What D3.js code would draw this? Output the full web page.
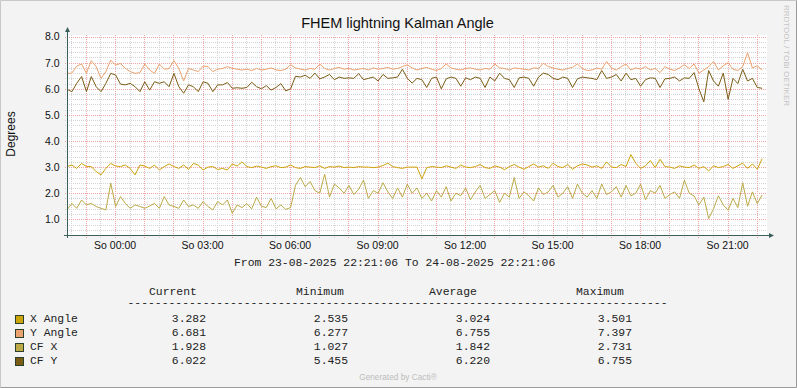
<!DOCTYPE html>
<html lang="en">
<head>
<meta charset="UTF-8">
<title>FHEM lightning Kalman Angle</title>
<script src="https://cdnjs.cloudflare.com/ajax/libs/d3/7.8.5/d3.min.js"></script>
<style>
    body { margin: 0; background: #f3f3f3; }
    svg { display: block; }
    .mono { font-family: "Liberation Mono", "DejaVu Sans Mono", monospace; font-size: 11.4px; fill: #222; }
    .sans { font-family: "Liberation Sans", Arial, sans-serif; }
</style>
</head>
<body>
<svg id="chart" width="797" height="388"></svg>
<script>
    // values every 10 minutes from 23-08-2025 22:21:06
    const startTime = new Date(Date.UTC(2025, 7, 23, 22, 21, 6))
    const endTime = new Date(Date.UTC(2025, 7, 24, 22, 21, 6))
    const stepMinutes = 10

    const seriesNames = ['X Angle', 'Y Angle', 'CF X', 'CF Y']

    const xAngle = [
        3.02,3.08,2.95,3.14,3.02,3.02,2.83,2.70,2.95,3.14,3.04,3.02,3.08,2.95,2.70,3.08,3.04,2.95,3.08,2.89,3.02,3.12,3.02,2.95,3.08,2.91,3.14,3.08,2.89,3.00,3.02,2.91,2.95,2.89,3.12,3.04,
        3.20,3.02,2.98,3.04,3.00,2.95,3.02,3.05,2.98,3.00,3.08,2.98,2.95,3.02,3.00,2.98,3.05,2.95,3.02,3.00,3.04,2.98,3.00,2.98,3.02,3.00,3.00,2.98,3.00,3.06,3.15,3.02,2.98,2.95,3.00,3.00,
        3.00,2.55,2.98,3.02,3.00,2.98,3.05,3.00,2.95,3.08,3.00,2.98,3.02,3.10,2.98,2.95,3.05,3.00,2.90,3.02,3.10,3.00,2.92,3.02,3.12,3.00,3.05,2.95,3.15,3.02,2.98,3.10,2.92,3.05,3.12,3.08,
        3.00,3.05,2.95,3.20,3.00,2.98,3.10,3.02,3.48,3.15,2.95,3.05,3.25,2.98,3.30,3.02,3.00,2.95,3.05,3.00,2.98,3.08,2.95,3.02,2.85,3.05,2.98,3.02,3.10,2.95,3.05,3.15,2.95,3.12,2.92,3.32
    ]
    const yAngle = [
        6.59,6.60,6.87,6.95,6.60,7.08,6.85,6.40,6.66,7.10,6.91,6.97,6.78,6.66,6.59,6.62,6.95,6.72,6.59,6.95,6.75,6.78,7.08,6.78,6.30,6.78,6.72,6.66,6.87,6.85,6.66,6.75,6.78,6.85,6.78,6.75,
        6.72,6.75,6.70,6.78,6.72,6.75,6.80,6.72,6.70,6.75,6.92,6.80,6.75,6.72,6.78,6.75,6.95,6.78,6.72,6.78,6.82,6.75,6.78,6.72,6.75,6.78,6.72,6.80,6.75,6.78,6.82,6.75,6.78,6.85,6.92,6.80,
        6.72,6.78,6.82,6.75,6.70,6.78,6.95,6.80,6.75,6.72,6.78,6.80,6.75,6.72,6.78,6.75,6.95,6.80,6.78,6.72,6.80,6.78,6.75,6.72,6.80,6.78,6.98,6.85,6.80,6.75,6.72,6.78,6.82,6.95,6.78,6.70,
        6.72,6.80,6.75,7.05,6.80,6.72,6.85,6.95,6.72,6.80,6.75,6.85,6.72,6.78,6.62,6.85,6.75,6.70,6.80,6.92,6.78,6.95,6.60,6.72,6.85,7.05,6.72,6.88,7.00,6.75,6.70,6.85,7.38,6.80,6.88,6.72
    ]
    const cfX = [
        1.36,1.61,1.42,1.74,1.55,1.61,1.49,1.42,1.36,2.38,1.49,1.87,1.61,1.42,1.55,1.49,1.42,1.51,1.61,1.42,1.87,1.55,1.49,1.42,1.74,1.49,1.55,1.42,1.68,1.49,1.36,1.68,1.55,1.74,1.23,1.55,
        1.45,1.60,1.40,1.85,1.50,1.45,1.80,1.40,1.55,1.38,1.45,2.30,2.60,2.25,2.45,2.10,2.00,2.73,1.85,2.35,2.20,2.00,2.30,1.95,2.15,2.50,1.80,2.10,2.00,2.40,2.05,1.80,2.20,1.85,2.35,2.00,
        2.20,1.80,2.00,1.70,2.10,1.85,2.25,1.70,2.00,1.90,2.20,1.75,2.05,2.30,1.80,1.95,2.10,1.65,2.00,1.85,2.60,1.80,2.05,1.90,1.70,2.20,1.95,2.05,2.30,1.85,2.00,2.25,1.80,2.35,2.00,1.85,
        2.10,1.80,2.35,1.95,2.05,2.25,1.85,2.30,1.90,2.00,2.35,1.75,2.10,2.00,2.30,1.80,1.95,2.05,1.80,2.50,2.00,1.90,1.55,1.85,1.03,1.40,1.90,1.55,1.35,1.80,1.45,2.40,1.50,2.05,1.60,1.93
    ]
    const cfY = [
        5.98,5.89,6.21,6.47,5.89,6.47,6.08,5.89,6.21,6.59,6.53,6.18,6.15,6.21,6.08,5.89,6.27,5.95,6.27,6.21,6.27,6.08,6.59,6.08,5.83,6.15,6.08,5.89,6.27,6.21,5.89,6.15,6.15,6.24,6.02,6.04,
        6.02,6.05,6.25,6.08,6.00,6.12,5.95,6.05,6.20,5.92,6.00,6.48,6.45,6.52,6.40,6.60,6.38,6.45,6.55,6.35,6.45,6.40,6.42,6.40,6.58,6.35,6.40,6.45,6.30,6.55,6.40,6.42,6.45,6.75,6.40,6.22,
        6.40,6.35,6.05,6.40,6.45,6.00,6.38,6.45,6.40,6.10,6.42,6.35,6.45,6.40,6.05,6.45,6.30,6.60,6.40,6.35,6.05,6.42,6.45,6.40,6.10,6.45,6.60,6.55,6.40,6.35,6.45,6.40,6.05,6.38,6.45,6.42,
        6.40,6.35,6.70,6.40,6.45,6.55,6.30,6.60,6.35,6.40,6.10,6.35,6.42,6.40,6.05,6.38,6.40,6.45,6.30,6.42,6.40,6.62,6.00,5.50,6.70,6.30,6.10,6.60,5.60,6.40,6.20,6.75,6.30,6.40,6.05,6.02
    ]

    const statHeads = ['Current', 'Minimum', 'Average', 'Maximum']
    const current = [3.282, 6.681, 1.928, 6.022]
    const minimum = [2.535, 6.277, 1.027, 5.455]
    const average = [3.024, 6.755, 1.842, 6.220]
    const maximum = [3.501, 7.397, 2.731, 6.755]
    const yTicks = [1, 2, 3, 4, 5, 6, 7, 8]

    const colors = ['#CCA40C', '#EAA26E', '#BBAA46', '#7A5C14']
    const dayNames = ['So', 'Mo', 'Di', 'Mi', 'Do', 'Fr', 'Sa']

    const svg = d3.select('#chart')
    const plotLeft = 67, plotRight = 767, plotTop = 35, plotBottom = 235

    const xScale = d3.scaleUtc().domain([startTime, endTime]).range([plotLeft, plotRight])
    const yScale = d3.scaleLinear().domain([1, 8]).range([219.3, 36.6])

    // frame
    svg.append('rect').attr('width', 797).attr('height', 388).attr('fill', '#f3f3f3')
    svg.append('path').attr('d', 'M0.5,387.5V0.5H796.5').attr('fill', 'none').attr('stroke', '#c8c8c8')
    svg.append('path').attr('d', 'M0.5,387.5H796.5V0.5').attr('fill', 'none').attr('stroke', '#9a9a9a')

    svg.append('rect').attr('x', plotLeft).attr('y', plotTop).attr('width', plotRight - plotLeft).attr('height', plotBottom - plotTop).attr('fill', '#fff')

    const grid = svg.append('g')
    const halfHours = d3.utcMinute.every(30).range(startTime, endTime).filter(d => d.getUTCMinutes() === 30)
    const hours = d3.utcHour.range(startTime, endTime)
    const minorY = d3.range(4, 81, 2).map(d => d / 10).filter(d => d % 1 !== 0 && yScale(d) > plotTop)

    grid.selectAll('.vmin').data(halfHours).enter().append('line')
        .attr('x1', d => Math.round(xScale(d)) + 0.5).attr('x2', d => Math.round(xScale(d)) + 0.5)
        .attr('y1', plotTop).attr('y2', plotBottom + 3)
        .attr('stroke', '#d4d4d4').attr('stroke-dasharray', '1,1')
    grid.selectAll('.hmin').data(minorY).enter().append('line')
        .attr('x1', plotLeft - 2).attr('x2', plotRight)
        .attr('y1', d => Math.round(yScale(d)) + 0.5).attr('y2', d => Math.round(yScale(d)) + 0.5)
        .attr('stroke', '#d4d4d4').attr('stroke-dasharray', '1,1')
    grid.selectAll('.vmaj').data(hours).enter().append('line')
        .attr('x1', d => Math.round(xScale(d)) + 0.5).attr('x2', d => Math.round(xScale(d)) + 0.5)
        .attr('y1', plotTop).attr('y2', plotBottom + 3)
        .attr('stroke', '#efa4a4').attr('stroke-dasharray', '1,1')
    grid.selectAll('.hmaj').data(yTicks).enter().append('line')
        .attr('x1', plotLeft - 2).attr('x2', plotRight)
        .attr('y1', d => Math.round(yScale(d)) + 0.5).attr('y2', d => Math.round(yScale(d)) + 0.5)
        .attr('stroke', '#efa4a4').attr('stroke-dasharray', '1,1')

    // series
    const allSeries = [xAngle, yAngle, cfX, cfY]
    const line = d3.line()
        .x((d, i) => xScale(new Date(startTime.getTime() + i * stepMinutes * 60000)))
        .y(d => yScale(d))

    svg.append('g').selectAll('path').data(allSeries).enter().append('path')
        .attr('d', d => line(d))
        .attr('fill', 'none')
        .attr('stroke', (d, i) => colors[i])
        .attr('stroke-width', 1)

    // axes with arrows
    const axisColor = '#3d5f59'
    svg.append('line').attr('x1', plotLeft - 3).attr('x2', plotRight + 2).attr('y1', plotBottom + 0.5).attr('y2', plotBottom + 0.5).attr('stroke', axisColor)
    svg.append('line').attr('x1', plotLeft + 0.5).attr('x2', plotLeft + 0.5).attr('y1', plotBottom + 3).attr('y2', 31).attr('stroke', axisColor)
    svg.append('path').attr('d', `M${plotRight + 7},${plotBottom + 0.5}L${plotRight + 2},${plotBottom - 2}L${plotRight + 2},${plotBottom + 3}Z`).attr('fill', axisColor)
    svg.append('path').attr('d', `M${plotLeft + 0.5},27L${plotLeft - 2},32L${plotLeft + 3},32Z`).attr('fill', axisColor)

    // tick labels
    const labelTimes = d3.utcHour.every(3).range(startTime, endTime)
    svg.append('g').selectAll('text').data(labelTimes).enter().append('text')
        .attr('class', 'sans')
        .attr('x', d => xScale(d)).attr('y', 249)
        .attr('text-anchor', 'middle').attr('font-size', '10.5px').attr('fill', '#111')
        .text(d => `${dayNames[d.getUTCDay()]} ${d3.utcFormat('%H:%M')(d)}`)

    svg.append('g').selectAll('text').data(yTicks).enter().append('text')
        .attr('class', 'sans')
        .attr('x', 59.5).attr('y', d => yScale(d) + 3.8)
        .attr('text-anchor', 'end').attr('font-size', '10.5px').attr('fill', '#111')
        .text(d => d.toFixed(1))

    svg.append('text').attr('class', 'sans')
        .attr('transform', 'translate(14.5,134) rotate(-90)')
        .attr('text-anchor', 'middle').attr('font-size', '12px').attr('fill', '#111')
        .text('Degrees')

    svg.append('text').attr('class', 'sans')
        .attr('x', 397.5).attr('y', 28.3)
        .attr('text-anchor', 'middle').attr('font-size', '14.5px').attr('fill', '#111')
        .text('FHEM lightning Kalman Angle')

    svg.append('text').attr('class', 'sans')
        .attr('transform', 'translate(784,5) rotate(90)')
        .attr('font-size', '8px').attr('fill', '#c4c4c4')
        .text('RRDTOOL / TOBI OETIKER')

    svg.append('text').attr('class', 'sans')
        .attr('x', 398).attr('y', 380)
        .attr('text-anchor', 'middle').attr('font-size', '8.3px').attr('fill', '#bdbdbd')
        .text('Generated by Cacti®')

    // legend
    const fmt = d => `${d3.utcFormat('%d-%m-%Y %H:%M:%S')(d)}`
    svg.append('text').attr('class', 'mono').attr('x', 234).attr('y', 266)
        .text(`From ${fmt(startTime)} To ${fmt(endTime)}`)

    const headX = [149, 296, 429, 576]
    const valueEnd = [206, 348, 490, 632]
    svg.append('g').selectAll('text').data(statHeads).enter().append('text')
        .attr('class', 'mono').attr('x', (d, i) => headX[i]).attr('y', 294.5)
        .text(d => d)
    svg.append('text').attr('class', 'mono').attr('x', 127.5).attr('y', 306)
        .text('-'.repeat(79))

    const rows = svg.append('g').selectAll('g').data(seriesNames).enter().append('g')
        .attr('transform', (d, i) => `translate(0,${i * 14})`)
    rows.append('rect').attr('x', 15.5).attr('y', 315.5).attr('width', 8).attr('height', 8)
        .attr('fill', (d, i) => colors[i]).attr('stroke', '#2b3f2b')
    rows.append('text').attr('class', 'mono').attr('x', 30).attr('y', 322.3)
        .text(d => d.replace(' ', '\u00a0'))
    const stats = [current, minimum, average, maximum]
    stats.forEach((col, c) => {
        rows.append('text').attr('class', 'mono')
            .attr('x', valueEnd[c]).attr('y', 322.3).attr('text-anchor', 'end')
            .text((d, i) => col[i].toFixed(3))
    })
</script>
</body>
</html>
